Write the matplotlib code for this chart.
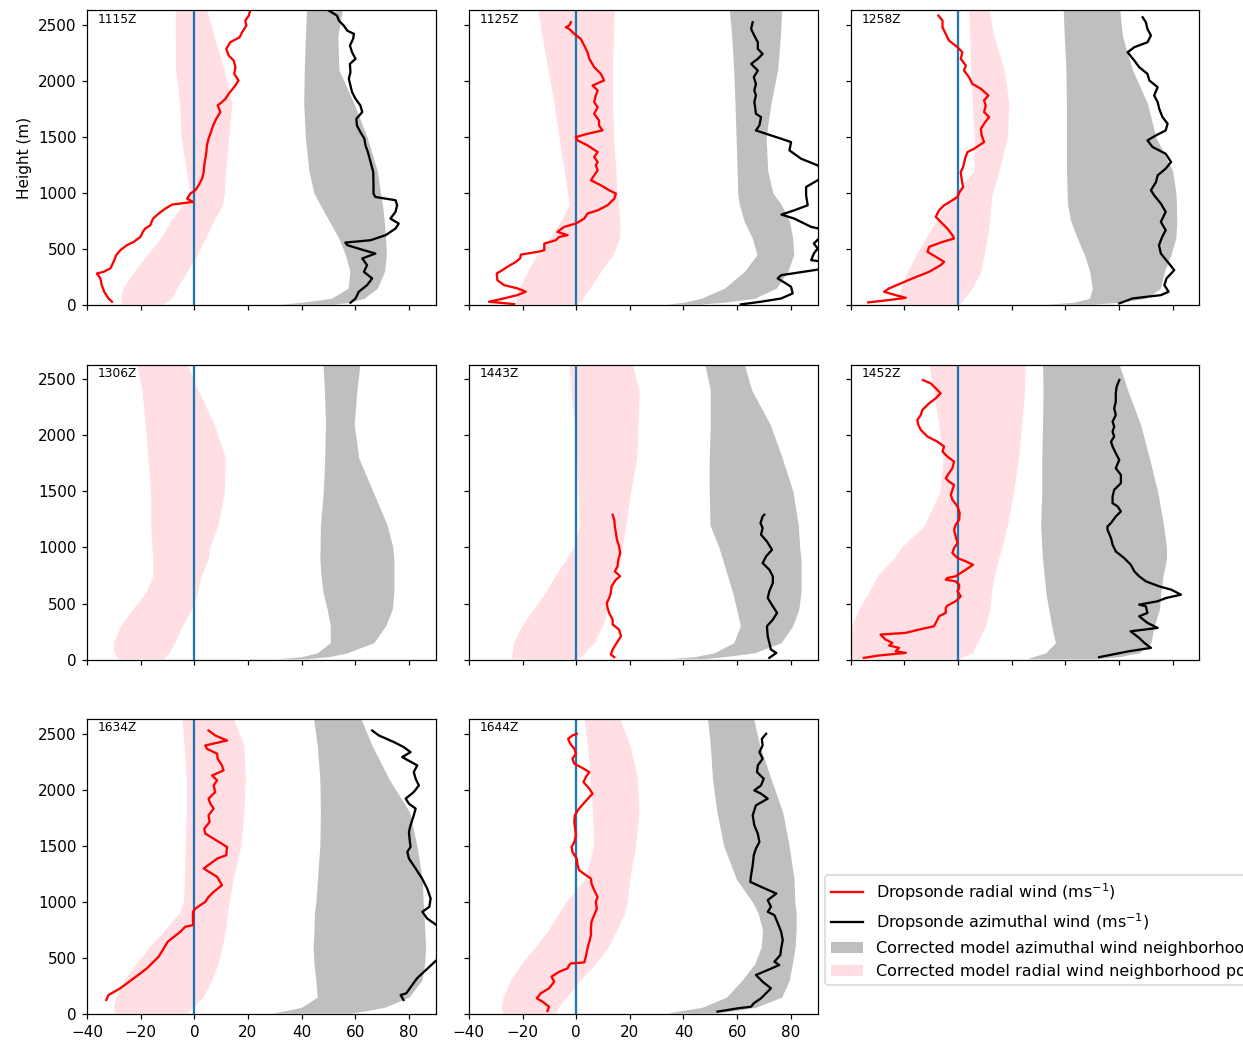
import numpy as np
import matplotlib.pyplot as plt
from matplotlib.lines import Line2D
from matplotlib.patches import Patch

# sonde drop times (one panel each)
times = ['1115Z', '1125Z', '1258Z', '1306Z', '1443Z', '1452Z', '1634Z', '1644Z']

# heights (m) of the model neighborhood envelopes
band_z = [8, 25, 60, 150, 300, 450, 600, 750, 900, 1000, 1200, 1500, 1800, 2100, 2400, 2630]

# radial wind envelope (pink) and azimuthal wind envelope (gray), m/s
rad_lo_1115 = [-27, -27.2, -27.5, -26.7, -22.5, -17.5, -12.5, -8.8, -4.3, -1.5, -3, -4.9, -5.5, -7, -7.1, -7.1]
rad_hi_1115 = [-12, -10.5, -8.5, -6.5, -2.7, 1.1, 4.2, 7.2, 10.6, 11.2, 11.7, 12.8, 14, 11.1, 7.4, 4.7]
azi_lo_1115 = [32, 40, 51, 57.3, 58, 56.3, 53.8, 50.3, 46.8, 44.6, 42.7, 41.4, 40.8, 41, 41.4, 41.8]
azi_hi_1115 = [52, 58, 63.2, 68.2, 70.9, 71.6, 71.3, 70.8, 70.1, 69.4, 68.2, 64.4, 59.5, 53.9, 53.5, 55.1]

rad_lo_1125 = [-22, -22.3, -22.5, -21.3, -18.2, -14.5, -9.9, -5.6, -2.6, -3.2, -4.5, -6.4, -8.3, -10.5, -12.7, -14.2]
rad_hi_1125 = [0, 1.5, 2.5, 5, 9.2, 13.7, 16.2, 16.3, 15.7, 15.2, 14.8, 13.9, 13.6, 13.6, 13.9, 14.2]
azi_lo_1125 = [34, 40, 46.5, 55.2, 62.7, 67.4, 65.6, 62.6, 60.8, 60.2, 60, 59.6, 59.2, 58.7, 58, 57.1]
azi_hi_1125 = [46, 55, 66.4, 74.5, 78.9, 81.1, 80.7, 79.5, 76.4, 73.3, 71.4, 70.8, 72.6, 75.1, 76.1, 76.6]

rad_lo_1258 = [-22, -22, -21.8, -21.4, -18.9, -15.7, -12, -8.2, -4.3, -1, 5.9, 6, 5.3, 4.7, 4.4, 3.9]
rad_hi_1258 = [0, 1.5, 2.2, 5.3, 8.5, 9.7, 10.9, 11.8, 12.2, 12.8, 15.3, 18.4, 19, 17.2, 13.4, 11.6]
azi_lo_1258 = [33, 43, 49, 50, 49.1, 47.1, 44.4, 42, 40.8, 40.7, 40.4, 40.4, 40.4, 40.2, 39.6, 39.2]
azi_hi_1258 = [50, 60, 70, 75.5, 76.9, 79.4, 81.2, 81.5, 81.4, 81.2, 80, 73.7, 70.6, 65, 61.3, 60.3]

rad_lo_1306 = [-28.5, -29, -30, -30.2, -27.5, -23, -18, -15.4, -15.5, -15.8, -16.2, -16.3, -17.3, -18.3, -19.5, -21.4]
rad_hi_1306 = [-11.5, -10.8, -9.5, -7.3, -4.5, -1, 1.1, 2.6, 5.2, 5.7, 8.8, 11.2, 11.6, 7.4, 1.5, -2.7]
azi_lo_1306 = [31, 40, 45.8, 50.7, 50.7, 49.5, 48, 47.2, 46.8, 46.9, 47, 48.1, 48.6, 48.9, 48.5, 48]
azi_hi_1306 = [42, 50, 57, 66.9, 71.3, 73.8, 74.4, 74.4, 74.4, 74, 71.9, 66.6, 61.3, 59.6, 60.6, 61.7]

rad_lo_1443 = [-23.8, -24, -24, -23.3, -20.3, -16, -11.5, -7.8, -3.6, -0.9, 1.2, 0.7, 0.2, -0.7, -2, -2.6]
rad_hi_1443 = [0.5, 1.7, 3, 6.7, 9.8, 11.7, 12.9, 14.7, 16.6, 17.2, 18.5, 20.3, 22.6, 23.1, 23.5, 21]
azi_lo_1443 = [35, 44, 51.5, 58.7, 61.2, 59.8, 58.3, 56.4, 54.5, 53.2, 49.9, 49.6, 49.6, 50, 50, 48]
azi_hi_1443 = [48, 55, 66.4, 76.4, 80.7, 83, 83.8, 83.8, 83.8, 83.3, 82.8, 80.8, 76.8, 72.3, 65.5, 62.7]

rad_lo_1452 = [-42, -42, -42, -42, -39.7, -37, -33.3, -30, -24, -21.2, -12.5, -6.7, -5.6, -7.2, -9.2, -10.8]
rad_hi_1452 = [0.5, 1.5, 5.3, 7.2, 10.3, 11.8, 12.5, 13.5, 15.1, 16.4, 18.4, 20.7, 22.6, 23.7, 24.8, 25]
azi_lo_1452 = [26, 28, 32.7, 36.3, 34.9, 33.8, 32.7, 32.1, 31.5, 31.2, 30.8, 31.2, 31.2, 31.5, 31.7, 31.5]
azi_hi_1452 = [52, 60, 67.5, 71.9, 73.1, 75.1, 75.6, 76.4, 77.7, 77.7, 76.6, 74.4, 71.3, 68, 63.3, 60.1]

rad_lo_1634 = [-29.6, -29.7, -30.1, -29.3, -26.3, -21.6, -16.7, -11, -5.7, -4, -3.7, -3.4, -3, -3, -3.8, -4.6]
rad_hi_1634 = [-3, -2, -0.6, 3.3, 6.4, 8.9, 10.4, 11.6, 12.3, 13, 14.4, 17.3, 18.5, 19, 18.5, 14.6]
azi_lo_1634 = [29, 33, 40, 45.8, 45.3, 44.6, 44.3, 44.6, 44.8, 45.3, 45.9, 46.8, 47, 46.8, 45.8, 44.5]
azi_hi_1634 = [58, 63.2, 71, 80, 84.8, 85.9, 86.2, 85.9, 85.6, 85.3, 85, 83, 80.3, 72.5, 66.2, 62.2]

rad_lo_1644 = [-27, -27.5, -28, -27.3, -24.5, -20.4, -15.2, -10.4, -6.5, -3.9, 3.2, 6.5, 6.1, 5.2, 4.2, 3]
rad_hi_1644 = [-7.7, -7.4, -6.7, -3.5, 1.5, 7.2, 12, 15.1, 18, 19, 19.9, 22.1, 23.4, 22.9, 20.1, 16.3]
azi_lo_1644 = [34, 38, 47, 56, 61.8, 66.6, 69, 69.5, 67.8, 65.7, 59.8, 55, 52.5, 50.8, 50, 49]
azi_hi_1644 = [52, 58, 67, 76.6, 79.4, 80.6, 81.6, 82, 82, 81.5, 81.2, 79.4, 77, 72.6, 68.4, 66.2]

# dropsonde profiles: (height m, wind m/s)
sonde_rad_1115 = [(30, -30.7), (59, -32), (119, -33.6), (178, -34.5), (238, -35), (282, -36.3), (297, -33.8),
                  (327, -31.3), (386, -30.1), (446, -29.1), (490, -27.6), (535, -25.1), (564, -22.6), (609, -20.1),
                  (653, -19.2), (683, -18.3), (713, -16.4), (772, -15.4), (817, -13.3), (861, -10.8), (897, -8.3),
                  (921, -0.5), (950, -2.7), (995, -1.5), (1025, 0.4), (1069, 1.6), (1129, 2.9), (1188, 3.5),
                  (1247, 3.7), (1307, 4.1), (1366, 4.5), (1426, 4.7), (1485, 5.3), (1544, 6.2), (1604, 7),
                  (1663, 8.2), (1723, 9.7), (1782, 8.7), (1812, 10.3), (1841, 11.6), (1886, 12.8), (1960, 15.3),
                  (2005, 16.5), (2064, 14.9), (2124, 15.3), (2183, 14.7), (2228, 12.8), (2287, 11.9), (2346, 13.4),
                  (2391, 16.9), (2435, 17.8), (2495, 19.4), (2539, 19), (2584, 20.3), (2645, 21)]
sonde_azi_1115 = [(21, 58.2), (59, 60.1), (119, 61.3), (178, 64.4), (238, 66.3), (297, 63.2), (356, 64.4),
                  (416, 62.6), (460, 67.5), (490, 63.2), (535, 57), (558, 56.3), (579, 65.7), (624, 71.3),
                  (683, 75), (728, 76.2), (772, 73.1), (832, 75), (891, 75.6), (936, 75), (965, 67.5), (995, 66.8),
                  (1069, 66.8), (1188, 66.7), (1277, 65.7), (1366, 64.7), (1426, 63.8), (1485, 63.4), (1544, 61.9),
                  (1604, 60.6), (1663, 60.4), (1723, 62.6), (1782, 61.9), (1841, 60.1), (1901, 58.8), (1960, 58.2),
                  (2020, 57.6), (2079, 58.2), (2153, 58), (2198, 60.1), (2257, 58.8), (2317, 58), (2376, 59.2),
                  (2421, 59.5), (2450, 57), (2495, 55.7), (2539, 53.9), (2584, 53.2), (2645, 49)]

sonde_rad_1125 = [(9, -23.1), (30, -32.5), (53, -28.1), (89, -21.9), (119, -18.8), (149, -21.9), (178, -26.9),
                  (223, -29.4), (282, -29.6), (312, -27.5), (342, -25.6), (386, -22.5), (416, -20.9), (451, -20.6),
                  (475, -14.4), (490, -11.9), (549, -11.9), (579, -7.6), (609, -6.3), (624, -3.2), (653, -7),
                  (698, -4.5), (728, -0.1), (772, 3), (817, 4.2), (846, 8), (891, 11.7), (950, 14.2), (995, 14.8),
                  (1025, 12.3), (1069, 9.2), (1114, 5.5), (1158, 6.7), (1203, 8), (1247, 7.3), (1277, 8),
                  (1322, 6.7), (1366, 8), (1426, 4.2), (1470, 0.5), (1500, -0.1), (1529, 4.2), (1559, 9.8),
                  (1604, 8.5), (1648, 8.5), (1708, 6.7), (1767, 8), (1812, 6.7), (1871, 7.3), (1916, 8),
                  (1960, 6.1), (2005, 10.4), (2064, 9.2), (2124, 6.7), (2198, 4.9), (2257, 4.2), (2317, 3),
                  (2376, 1.7), (2421, -0.7), (2465, -2.6), (2480, -3.9), (2495, -2.6), (2525, -2)]
sonde_azi_1125 = [(6, 61.4), (30, 68.9), (59, 76.4), (104, 80.7), (163, 80.1), (193, 78.2), (238, 75.1),
                  (267, 76.4), (312, 88.8), (335, 94), (380, 94), (401, 87.6), (460, 88.6), (505, 90), (550, 88.6),
                  (594, 90.5), (640, 94), (680, 91), (698, 87.6), (772, 81.3), (808, 76.5), (846, 81.3),
                  (891, 86.3), (980, 85.7), (1054, 85.7), (1114, 90), (1180, 94), (1247, 90), (1307, 83.8),
                  (1381, 79.5), (1455, 80.1), (1485, 76.4), (1529, 70.8), (1559, 67), (1604, 68.3), (1678, 68.9),
                  (1708, 67), (1767, 66.7), (1812, 66.4), (1871, 67), (1916, 66.4), (1975, 67), (2034, 66.2),
                  (2094, 67.7), (2153, 65.2), (2198, 67.7), (2242, 69.5), (2287, 67.7), (2346, 67.7), (2406, 66.4),
                  (2465, 65.2), (2525, 65.8)]

sonde_rad_1258 = [(24, -33.5), (45, -25.7), (65, -19.5), (89, -23.3), (119, -27.6), (149, -25.7), (193, -21.4),
                  (238, -17), (297, -10.8), (356, -6.5), (386, -5.2), (431, -8.3), (475, -11.4), (520, -10.8),
                  (564, -5.8), (594, -1.5), (624, -2.1), (683, -4), (743, -6.5), (787, -8.3), (846, -7.1),
                  (891, -5.2), (936, -2.1), (965, -0.2), (1010, 0.6), (1054, 1.9), (1114, 1.4), (1188, 1),
                  (1232, 1.9), (1307, 2.6), (1366, 3.5), (1396, 6), (1455, 9.7), (1515, 8.8), (1574, 8.5),
                  (1633, 10.1), (1678, 11.6), (1723, 9.7), (1782, 10.3), (1827, 9.7), (1871, 11.3), (1931, 8.5),
                  (1975, 5.3), (2034, 4.1), (2094, 2.2), (2138, 2.9), (2198, 1), (2257, 1.6), (2302, -0.2),
                  (2361, -3.4), (2421, -4.6), (2480, -5.8), (2539, -5.8), (2584, -7.3)]
sonde_azi_1258 = [(15, 60.1), (59, 65), (89, 75.6), (119, 78.5), (178, 76.9), (238, 77.7), (312, 80.6),
                  (386, 78.1), (460, 75.6), (535, 74.9), (609, 76.1), (668, 77.4), (743, 75.6), (832, 77.4),
                  (906, 75.6), (980, 73.1), (1025, 71.9), (1099, 73.8), (1158, 74.4), (1218, 77.4), (1277, 79.4),
                  (1351, 77.4), (1411, 72.5), (1470, 70.6), (1515, 73.8), (1559, 77.4), (1619, 78.1), (1678, 76.2),
                  (1752, 75), (1812, 74.4), (1871, 73.1), (1945, 74.4), (2005, 71.3), (2064, 70.6), (2124, 67.5),
                  (2183, 65.7), (2257, 63.2), (2302, 65.7), (2346, 70.6), (2406, 71.9), (2465, 70.6), (2525, 70),
                  (2569, 68.8)]

# no sonde data for 1306Z
sonde_rad_1306 = []
sonde_azi_1306 = []

sonde_rad_1443 = [(21, 14.2), (45, 12.9), (89, 13.6), (149, 15.1), (208, 16.7), (267, 16), (312, 13.6),
                  (356, 13.6), (416, 12.3), (460, 11.7), (505, 11.4), (549, 12.3), (594, 12.9), (653, 13.2),
                  (713, 14.8), (743, 16.4), (787, 14.4), (832, 15.4), (891, 15.7), (950, 16.4), (1010, 16),
                  (1069, 15.2), (1129, 14.8), (1188, 14.4), (1247, 14.2), (1292, 13.6)]
sonde_azi_1443 = [(15, 72), (59, 74.6), (89, 72.6), (149, 72), (208, 71.4), (297, 71.1), (356, 73.3),
                  (416, 74.9), (475, 73.3), (549, 71.4), (609, 72), (683, 73.3), (743, 73.3), (802, 72),
                  (861, 69.5), (921, 70.8), (980, 73), (1054, 71.1), (1114, 68.9), (1173, 69.5), (1218, 68.7),
                  (1277, 69.5), (1292, 70.1)]

sonde_rad_1452 = [(15, -35.1), (36, -29.5), (59, -19.5), (74, -23.3), (104, -22), (125, -25.7), (149, -24.5),
                  (178, -27), (223, -28.9), (238, -19.5), (267, -14.6), (297, -9), (327, -8.3), (386, -7.1),
                  (416, -4.6), (460, -4.6), (481, -4), (520, -0.9), (564, 1), (609, -0.2), (638, 0.4), (668, 0.4),
                  (698, -0.9), (713, -4.6), (728, -4), (743, -0.9), (802, 2.9), (846, 5.6), (876, 2.9),
                  (906, -0.2), (950, -2.1), (995, -1.5), (1040, -0.2), (1099, -0.9), (1158, -1.5), (1203, -0.9),
                  (1247, 0.4), (1307, 0.6), (1366, -0.2), (1426, -2.1), (1470, -2.7), (1515, -2.1), (1559, -1.5),
                  (1589, -3.4), (1619, -4.6), (1663, -3.4), (1708, -2.1), (1767, -1.5), (1812, -4), (1856, -5.8),
                  (1901, -5.2), (1945, -7.7), (1990, -11.4), (2050, -13.9), (2094, -14.8), (2138, -15.2),
                  (2183, -13.9), (2228, -13.3), (2287, -10.8), (2332, -8.3), (2376, -6.5), (2421, -8.3),
                  (2465, -10.2), (2495, -13.1)]
sonde_azi_1452 = [(21, 52.6), (45, 57.6), (74, 63.8), (104, 71.9), (149, 69.4), (193, 67.5), (252, 64.3),
                  (282, 74.4), (327, 70.6), (386, 67.5), (416, 70.6), (475, 70), (490, 67.5), (520, 74.4),
                  (549, 77.5), (579, 83.1), (624, 79.4), (653, 75), (698, 70), (743, 67.5), (787, 65.7),
                  (846, 64.4), (906, 61.9), (965, 58.8), (1025, 57.6), (1084, 57), (1158, 55.7), (1188, 55.7),
                  (1218, 57), (1277, 58.8), (1322, 60.7), (1366, 59.5), (1396, 57.6), (1455, 57.6), (1515, 58.2),
                  (1574, 60.7), (1648, 60.7), (1708, 58.8), (1782, 60.1), (1841, 58.8), (1901, 57.6), (1945, 57),
                  (1990, 58.2), (2034, 57.6), (2079, 58.2), (2124, 57.6), (2183, 58.8), (2242, 58.2), (2302, 58.8),
                  (2376, 58.8), (2435, 59.1), (2495, 60.1)]

sonde_rad_1634 = [(125, -32.8), (169, -32), (229, -27.6), (318, -22.6), (407, -17.7), (511, -13.3), (645, -9.9),
                  (734, -5.2), (778, -3.4), (793, -0.5), (912, -0.5), (941, 0.4), (1001, 4.1), (1045, 5.3),
                  (1090, 7.2), (1149, 10.3), (1224, 8.5), (1298, 3.5), (1387, 8.5), (1417, 11.9), (1491, 12.2),
                  (1610, 4.1), (1654, 3.7), (1714, 5.7), (1773, 5.3), (1833, 7.2), (1877, 6), (1922, 5.3),
                  (1981, 7.8), (2040, 7.2), (2085, 8.5), (2129, 6.6), (2174, 10.9), (2219, 10.3), (2278, 8.7),
                  (2323, 8.5), (2367, 4.7), (2397, 4.1), (2441, 12.2), (2486, 7.8), (2530, 5.3)]
sonde_azi_1634 = [(125, 78), (169, 76.9), (184, 79), (318, 83), (481, 90.3), (600, 96), (793, 90.3), (852, 86.8),
                  (912, 85), (956, 87.6), (1031, 88.1), (1120, 86.8), (1209, 84.9), (1298, 82.5), (1387, 80),
                  (1447, 79.4), (1491, 80.6), (1550, 80.3), (1625, 80), (1684, 80.6), (1773, 81.8), (1833, 82.5),
                  (1877, 80), (1922, 78.8), (1981, 81.8), (2040, 83.7), (2100, 82.5), (2159, 81.8), (2219, 83.1),
                  (2293, 77.5), (2337, 80.6), (2382, 78.1), (2427, 74.4), (2486, 68.8), (2530, 66.3)]

sonde_rad_1644 = [(27, -10.7), (65, -10.1), (110, -12.6), (140, -14.7), (184, -13.2), (229, -10.1), (288, -8.2),
                  (333, -9.2), (377, -6.3), (407, -3.2), (437, -2.6), (451, -2), (460, 3), (511, 3.6), (585, 4.2),
                  (645, 4.9), (704, 5.5), (763, 5.5), (823, 5.7), (882, 6.7), (941, 7.7), (1001, 7.3), (1045, 8),
                  (1105, 6.7), (1164, 5.7), (1209, 5.5), (1239, 3.6), (1283, 1.1), (1328, 0.5), (1387, 0.2),
                  (1446, -1.4), (1491, -1.7), (1535, -0.7), (1595, -0.1), (1654, -0.4), (1714, -0.7), (1773, -0.5),
                  (1833, 1.1), (1877, 2.7), (1936, 4.9), (1966, 6.1), (2011, 4.9), (2070, 2.7), (2115, 3.6),
                  (2159, 4.9), (2204, 1.7), (2233, -0.7), (2278, -1.4), (2323, -0.1), (2367, -0.7), (2412, -2.2),
                  (2456, -3), (2486, -1.4), (2501, 0.2)]
sonde_azi_1644 = [(21, 52.7), (50, 60.2), (65, 65.2), (95, 66.2), (140, 68.9), (229, 72.6), (288, 69.5),
                  (348, 67), (392, 71.4), (437, 75.7), (466, 73.9), (526, 76.1), (585, 76.4), (659, 77),
                  (734, 76.4), (778, 75.7), (882, 73.9), (912, 71.4), (956, 72.6), (1016, 71.4), (1075, 74.6),
                  (1135, 68.9), (1179, 64.9), (1239, 65.2), (1328, 65.8), (1417, 66.2), (1476, 67), (1535, 68.3),
                  (1610, 67.7), (1684, 66.4), (1773, 65.8), (1862, 67), (1922, 71.4), (1966, 68.9), (1996, 66.4),
                  (2040, 68.9), (2100, 69.9), (2159, 67.4), (2219, 67.7), (2278, 69.5), (2337, 68.3), (2397, 69.5),
                  (2456, 69.2), (2501, 70.8)]

panels = [
    (rad_lo_1115, rad_hi_1115, azi_lo_1115, azi_hi_1115, sonde_rad_1115, sonde_azi_1115),
    (rad_lo_1125, rad_hi_1125, azi_lo_1125, azi_hi_1125, sonde_rad_1125, sonde_azi_1125),
    (rad_lo_1258, rad_hi_1258, azi_lo_1258, azi_hi_1258, sonde_rad_1258, sonde_azi_1258),
    (rad_lo_1306, rad_hi_1306, azi_lo_1306, azi_hi_1306, sonde_rad_1306, sonde_azi_1306),
    (rad_lo_1443, rad_hi_1443, azi_lo_1443, azi_hi_1443, sonde_rad_1443, sonde_azi_1443),
    (rad_lo_1452, rad_hi_1452, azi_lo_1452, azi_hi_1452, sonde_rad_1452, sonde_azi_1452),
    (rad_lo_1634, rad_hi_1634, azi_lo_1634, azi_hi_1634, sonde_rad_1634, sonde_azi_1634),
    (rad_lo_1644, rad_hi_1644, azi_lo_1644, azi_hi_1644, sonde_rad_1644, sonde_azi_1644),
]

fig, axes = plt.subplots(3, 3, sharex=True, sharey=True, figsize=(1243 / 110, 1045 / 110))
plt.subplots_adjust(left=0.07, right=0.965, bottom=0.0297, top=0.99, wspace=0.095, hspace=0.203)

for i, ax in enumerate(axes.flat[:len(times)]):
    rlo, rhi, alo, ahi, srad, sazi = panels[i]
    ax.fill_betweenx(band_z, rlo, rhi, color='pink', alpha=0.5, lw=0)
    ax.fill_betweenx(band_z, alo, ahi, color='gray', alpha=0.5, lw=0)
    ax.axvline(0, color='C0')
    if len(srad):
        srad = np.array(srad)
        ax.plot(srad[:, 1], srad[:, 0], color='red')
    if len(sazi):
        sazi = np.array(sazi)
        ax.plot(sazi[:, 1], sazi[:, 0], color='black')
    ax.text(0.03, 0.993, times[i], transform=ax.transAxes, va='top', fontsize=8)

fig.delaxes(axes[2, 2])
axes[0, 0].set_xlim(-40, 90)
axes[0, 0].set_ylim(0, 2630)
axes[0, 0].set_ylabel('Height (m)')

handles = [
    Line2D([], [], color='red'),
    Line2D([], [], color='black'),
    Patch(color='gray', alpha=0.5, lw=0),
    Patch(color='pink', alpha=0.5, lw=0),
]
labels = [
    'Dropsonde radial wind (ms$^{-1}$)',
    'Dropsonde azimuthal wind (ms$^{-1}$)',
    'Corrected model azimuthal wind neighborhood points',
    'Corrected model radial wind neighborhood points',
]
# legend sits in the empty ninth slot and runs past the right edge
fig.legend(handles, labels, loc='upper left', bbox_to_anchor=(0.6637, 0.1627),
           borderaxespad=0, fontsize=10.5)

plt.savefig('out.png', dpi=110)
